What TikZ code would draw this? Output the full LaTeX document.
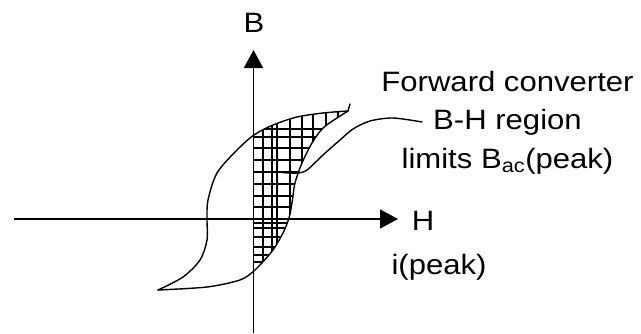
\documentclass[tikz,border=0pt]{standalone}
\usepackage{fontspec}
\setmainfont{Liberation Sans}
\newfontfamily\lblfont[FakeStretch=1.11]{Liberation Sans}
\usetikzlibrary{arrows.meta}

\begin{document}
\begin{tikzpicture}[x=1pt,y=-1pt,
    axis/.style={line width=1.8pt,-{Triangle[length=18pt,width=19pt]}},
    curve/.style={line width=1.4pt,line join=round,line cap=round},
    hatch/.style={line width=1.2pt},
    lbl/.style={font=\lblfont\fontsize{28}{38.8}\selectfont,inner sep=0pt,align=center}]
  \useasboundingbox (0,0) rectangle (641,333);

  % axes
  \coordinate (Bbot) at (253.5,333);
  \coordinate (Btop) at (253.5,50);
  \coordinate (Hleft) at (14,219);
  \coordinate (Hright) at (398,219);
  \draw[axis] (Bbot) -- (Btop);
  \draw[axis] (Hleft) -- (Hright);
  \node[lbl] (blabel) at (254,23) {B};
  \node[lbl] (hlabel) at (423,220.5) {H};
  \node[lbl] (ipeak) at (439,267) {i(peak)};

  % hatched region
  \begin{scope}
    \clip plot[smooth] coordinates {(253.5,136) (273,125) (297,117) (323,113) (347,111)}
      -- plot[smooth] coordinates {(347,111) (337,118) (323,128) (312,143) (302,163)
         (295,183) (292,203) (289,218) (283,233) (273,250) (260,265) (253.5,270)}
      -- cycle;
    \foreach \x in {263,272,277,290,302,313,326,338}
      \draw[hatch] (\x,100) -- (\x,280);
    \foreach \y in {129,137,148,160,172,184,196,207,223,228,237,247,255,262}
      \draw[hatch] (240,\y) -- (360,\y);
  \end{scope}

  % B-H loop
  \draw[curve] plot[smooth] coordinates {(158,290) (183,277) (200,260) (207,240) (207,219)
      (208,200) (217,173) (237,150) (254,135) (273,125) (297,117) (323,113) (348,111)}
      -- (350,104);
  \draw[curve] plot[smooth] coordinates {(348,111) (337,118) (323,128) (312,143) (302,163)
      (295,183) (292,203) (289,218) (283,233) (273,250) (260,265) (254,271) (240,280)
      (207,287) (158,290)};

  % note and leader
  \node[lbl] (note) at (507.5,122.6)
    {Forward converter\\B-H region\\limits B\textsubscript{ac}(peak)};
  \coordinate (leadend) at (278,172);
  \draw[curve] plot[smooth] coordinates {(422,122) (393,118) (370,121) (353,129) (340,140)
      (323,155) (307,170) (298,173) (288,173) (leadend)};
\end{tikzpicture}
\end{document}
